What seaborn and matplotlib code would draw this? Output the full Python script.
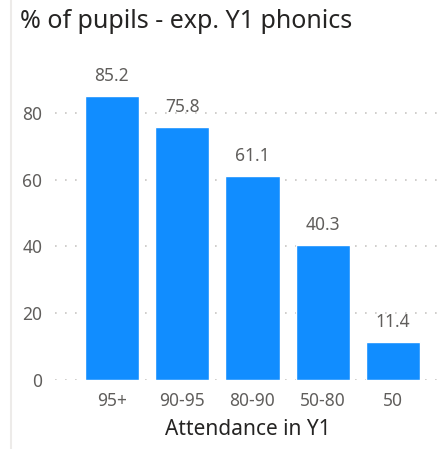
import matplotlib
matplotlib.use("Agg")
import matplotlib.pyplot as plt
import seaborn as sns
import pandas as pd

categories = ["95+", "90-95", "80-90", "50-80", "50"]
values = [85.2, 75.8, 61.1, 40.3, 11.4]
yticks = [0, 20, 40, 60, 80]

sns.set_theme(style="white")
plt.rcParams['font.family'] = ['Noto Sans', 'DejaVu Sans']

df = pd.DataFrame({"Attendance in Y1": categories, "pct": values})

fig = plt.figure(figsize=(4.46, 4.49), dpi=100)
ax = fig.add_axes([0.123, 0.1537, 0.864, 0.669])
sns.barplot(data=df, x="Attendance in Y1", y="pct", color="#118DFF", saturation=1,
            width=0.77, ax=ax, zorder=3)

ax.set_ylim(0, 90)
ax.set_xlim(-0.81, 4.67)
ax.set_yticks(yticks)
ax.yaxis.grid(True, linestyle=(0, (1, 5)), color="#C8C6C4", linewidth=1.2, zorder=0)
for s in ax.spines.values():
    s.set_visible(False)
ax.tick_params(axis="both", length=0, labelsize=12.5, labelcolor="#605E5C")
ax.tick_params(axis="y", pad=9)
ax.tick_params(axis="x", pad=9)
ax.set_ylabel("")
ax.set_xlabel("Attendance in Y1", fontsize=15, color="#252423", labelpad=6)

for p, v in zip(ax.patches, values):
    ax.annotate(f"{v:.1f}", (p.get_x() + p.get_width() / 2, p.get_height()),
                xytext=(0, 8), textcoords="offset points", ha="center", va="bottom",
                fontsize=12.5, color="#605E5C")

fig.text(0.045, 0.953, "% of pupils - exp. Y1 phonics", fontsize=18, color="#252423",
         ha="left", va="center")
fig.add_artist(plt.Line2D([0.024, 0.024], [0.0, 1.0], color="#EDEBE9", linewidth=1.5))

fig.savefig("out.png", dpi=100)
